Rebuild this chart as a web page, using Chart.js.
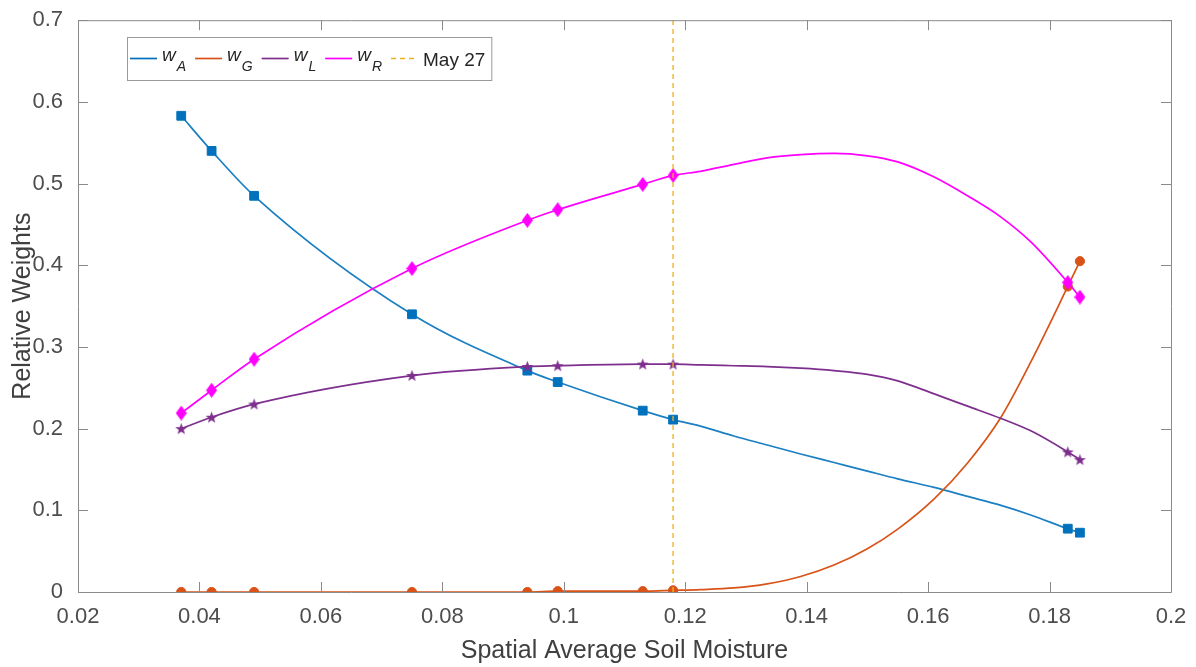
<!DOCTYPE html>
<html>
<head>
<meta charset="utf-8">
<script src="https://cdn.jsdelivr.net/npm/chart.js@4.4.0/dist/chart.umd.min.js"></script>
<style>
  body { margin: 0; background: #fff; }
  #wrap { width: 1196px; height: 667px; }
</style>
</head>
<body>
<div id="wrap"><canvas id="chart" width="1196" height="667"></canvas></div>
<script>
// soil moisture of the sampled days (where the markers sit)
const soilMoisture = [0.037, 0.042, 0.049, 0.075, 0.094, 0.099, 0.113, 0.118, 0.183, 0.185];
const wA = [0.583, 0.540, 0.485, 0.340, 0.271, 0.257, 0.222, 0.211, 0.0775, 0.0726];
const wG = [0.000, 0.000, 0.000, 0.000, 0.000, 0.001, 0.001, 0.002, 0.374, 0.405];
const wL = [0.200, 0.214, 0.230, 0.265, 0.276, 0.277, 0.279, 0.279, 0.1715, 0.162];
const wR = [0.219, 0.247, 0.285, 0.396, 0.455, 0.468, 0.499, 0.510, 0.379, 0.361];

// values in the gap between 0.118 and 0.183
const curveMoisture = [0.1225, 0.128, 0.1335, 0.139, 0.1445, 0.150, 0.155, 0.161, 0.1665, 0.172, 0.177];
const wACurve = [0.203, 0.191, 0.180, 0.169, 0.1585, 0.148, 0.1385, 0.128, 0.117, 0.106, 0.094];
const wGCurve = [0.003, 0.005, 0.010, 0.019, 0.033, 0.053, 0.077, 0.114, 0.158, 0.214, 0.283];
const wLCurve = [0.278, 0.277, 0.276, 0.274, 0.271, 0.2665, 0.2585, 0.2425, 0.2275, 0.2125, 0.197];
const wRCurve = [0.515, 0.5235, 0.5315, 0.5355, 0.537, 0.534, 0.5265, 0.508, 0.485, 0.459, 0.428];

const mayLine = 0.118;

const xTicks = [0.02, 0.04, 0.06, 0.08, 0.1, 0.12, 0.14, 0.16, 0.18, 0.2];
const xTickLabels = ['0.02', '0.04', '0.06', '0.08', '0.1', '0.12', '0.14', '0.16', '0.18', '0.2'];
const yTicks = [0, 0.1, 0.2, 0.3, 0.4, 0.5, 0.6, 0.7];
const yTickLabels = ['0', '0.1', '0.2', '0.3', '0.4', '0.5', '0.6', '0.7'];

const BLUE = '#0072BD', ORANGE = '#D95319', PURPLE = '#7E2F8E', MAGENTA = '#FF00FF', GOLD = '#EDB120';
const FONT = '"Liberation Sans", Arial, sans-serif';

function curvePoints(marks, curve) {
  return soilMoisture.map((x, i) => ({ x, y: marks[i] }))
    .concat(curveMoisture.map((x, i) => ({ x, y: curve[i] })))
    .sort((a, b) => a.x - b.x);
}
function markPoints(marks) {
  return soilMoisture.map((x, i) => ({ x, y: marks[i] }));
}

// little canvases for the matlab-like pentagram and tall diamond
function starMarker(color) {
  const c = document.createElement('canvas');
  c.width = 13; c.height = 13;
  const g = c.getContext('2d');
  g.fillStyle = color;
  g.beginPath();
  for (let k = 0; k < 10; k++) {
    const r = k % 2 === 0 ? 6.3 : 2.6;
    const a = -Math.PI / 2 + k * Math.PI / 5;
    g.lineTo(6.5 + r * Math.cos(a), 7 + r * Math.sin(a));
  }
  g.closePath();
  g.fill();
  return c;
}
function diamondMarker(color) {
  const c = document.createElement('canvas');
  c.width = 11; c.height = 15;
  const g = c.getContext('2d');
  g.fillStyle = color;
  g.beginPath();
  g.moveTo(5.5, 0); g.lineTo(11, 7.5); g.lineTo(5.5, 15); g.lineTo(0, 7.5);
  g.closePath();
  g.fill();
  return c;
}

function lineSet(data, color, order) {
  return {
    data, borderColor: color, borderWidth: 1.7, pointRadius: 0,
    cubicInterpolationMode: 'monotone', fill: false, order
  };
}
function markSet(data, color, style, radius, order) {
  return {
    data, showLine: false, pointStyle: style, pointRadius: radius,
    backgroundColor: color, borderColor: color, pointBorderWidth: 1, order
  };
}

// box with inward ticks on all four sides
const framePlugin = {
  id: 'frame',
  afterDatasetsDraw(chart) {
    const { ctx, chartArea: a, scales: { x, y } } = chart;
    ctx.save();
    ctx.strokeStyle = '#8a8a8a';
    ctx.lineWidth = 1;
    ctx.beginPath();
    ctx.rect(a.left + 0.5, a.top + 0.5, a.right - a.left, a.bottom - a.top);
    x.ticks.forEach(t => {
      const px = Math.round(x.getPixelForValue(t.value)) + 0.5;
      ctx.moveTo(px, a.bottom); ctx.lineTo(px, a.bottom - 10);
      ctx.moveTo(px, a.top); ctx.lineTo(px, a.top + 10);
    });
    y.ticks.forEach(t => {
      const py = Math.round(y.getPixelForValue(t.value)) + 0.5;
      ctx.moveTo(a.left, py); ctx.lineTo(a.left + 10, py);
      ctx.moveTo(a.right, py); ctx.lineTo(a.right - 10, py);
    });
    ctx.stroke();
    ctx.restore();
  }
};

const legendPlugin = {
  id: 'matlabLegend',
  afterDraw(chart) {
    const ctx = chart.ctx;
    const items = [
      { sub: 'A', color: BLUE }, { sub: 'G', color: ORANGE },
      { sub: 'L', color: PURPLE }, { sub: 'R', color: MAGENTA },
      { text: 'May 27', color: GOLD, dash: true }
    ];
    const mainFont = 'italic 19px ' + FONT, subFont = 'italic 14px ' + FONT, plainFont = '19px ' + FONT;
    const left = 127, top = 37, height = 43, cy = top + height / 2;
    ctx.save();
    const widths = items.map(it => {
      if (it.text) { ctx.font = plainFont; return ctx.measureText(it.text).width; }
      ctx.font = mainFont; const w1 = ctx.measureText('w').width;
      ctx.font = subFont; return w1 + ctx.measureText(it.sub).width + 1;
    });
    let total = 3;
    widths.forEach((w, i) => { total += 27 + 5 + w + (i < items.length - 1 ? 9 : 6); });
    ctx.fillStyle = '#fff';
    ctx.strokeStyle = '#9a9a9a';
    ctx.lineWidth = 1;
    ctx.fillRect(left, top, total, height);
    ctx.strokeRect(left + 0.5, top + 0.5, total, height);
    let x = left + 3;
    items.forEach((it, i) => {
      ctx.strokeStyle = it.color;
      ctx.lineWidth = 1.7;
      ctx.setLineDash(it.dash ? [5, 4] : []);
      ctx.beginPath(); ctx.moveTo(x, cy); ctx.lineTo(x + 27, cy); ctx.stroke();
      ctx.setLineDash([]);
      x += 32;
      ctx.fillStyle = '#262626';
      ctx.textBaseline = 'alphabetic';
      if (it.text) {
        ctx.font = plainFont; ctx.fillText(it.text, x, cy + 7);
      } else {
        ctx.font = mainFont; ctx.fillText('w', x, cy + 2);
        const w1 = ctx.measureText('w').width;
        ctx.font = subFont; ctx.fillText(it.sub, x + w1 + 1, cy + 12);
      }
      x += widths[i] + 9;
    });
    ctx.restore();
  }
};

new Chart(document.getElementById('chart'), {
  type: 'line',
  data: {
    datasets: [
      { data: [{ x: mayLine, y: 0 }, { x: mayLine, y: 0.7 }], borderColor: 'rgba(237,177,32,0.8)',
        borderWidth: 1.7, borderDash: [5, 4], pointRadius: 0, order: 0 },
      markSet(markPoints(wR), MAGENTA, diamondMarker(MAGENTA), 6, 1),
      lineSet(curvePoints(wR, wRCurve), MAGENTA, 2),
      markSet(markPoints(wL), PURPLE, starMarker(PURPLE), 6, 3),
      lineSet(curvePoints(wL, wLCurve), PURPLE, 4),
      markSet(markPoints(wG), ORANGE, 'circle', 4.6, 5),
      lineSet(curvePoints(wG, wGCurve), ORANGE, 6),
      markSet(markPoints(wA), BLUE, 'rect', 6.2, 7),
      lineSet(curvePoints(wA, wACurve), '#1a7fc3', 8)
    ]
  },
  options: {
    responsive: false,
    animation: false,
    events: [],
    layout: { padding: { top: 15, right: 25, bottom: 0, left: 0 } },
    plugins: { legend: { display: false }, tooltip: { enabled: false } },
    scales: {
      x: {
        type: 'linear', min: 0.02, max: 0.2,
        grid: { display: false }, border: { display: false },
        afterBuildTicks: s => { s.ticks = xTicks.map(v => ({ value: v })); },
        afterFit: s => { s.height = 75; },
        ticks: { callback: (v, i) => xTickLabels[i], color: '#4d4d4d', padding: 4,
                 maxRotation: 0, autoSkip: false, font: { family: FONT, size: 22 } },
        title: { display: true, text: 'Spatial Average Soil Moisture', color: '#404040',
                 padding: { top: 0, bottom: 1 }, font: { family: FONT, size: 25 } }
      },
      y: {
        type: 'linear', min: 0, max: 0.7,
        grid: { display: false }, border: { display: false },
        afterBuildTicks: s => { s.ticks = yTicks.map(v => ({ value: v })); },
        afterFit: s => { s.width = 78; },
        ticks: { callback: (v, i) => yTickLabels[i], color: '#4d4d4d', padding: 7,
                 autoSkip: false, font: { family: FONT, size: 22 } },
        title: { display: true, text: 'Relative Weights', color: '#404040',
                 padding: { top: 8, bottom: 0 }, font: { family: FONT, size: 25 } }
      }
    }
  },
  plugins: [framePlugin, legendPlugin]
});
</script>
</body>
</html>
